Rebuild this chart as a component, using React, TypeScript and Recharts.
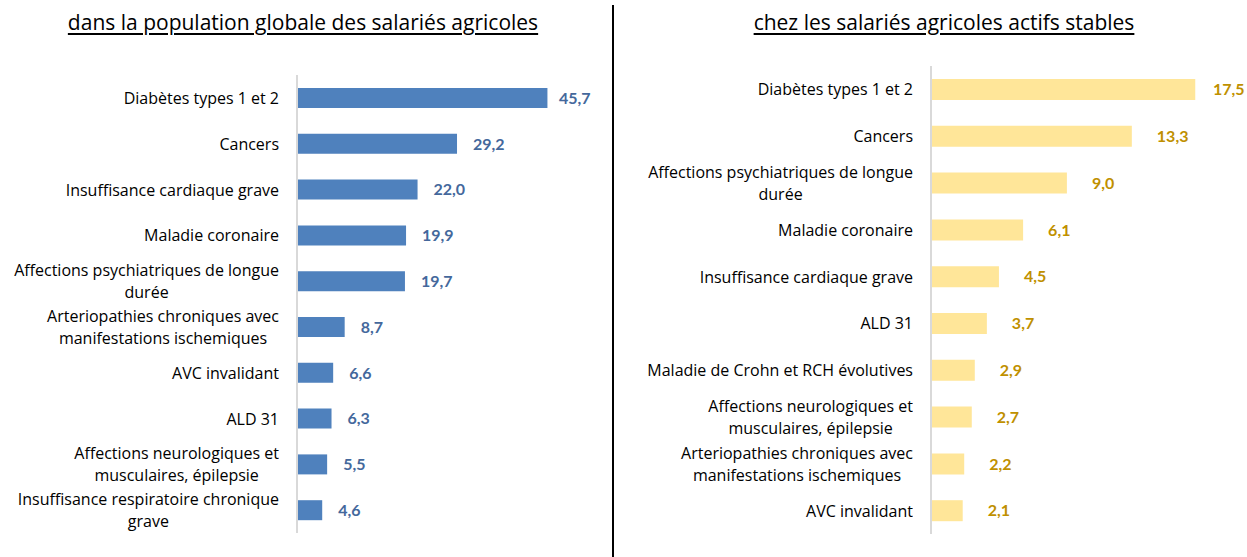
import { BarChart, Bar, XAxis, YAxis, LabelList } from 'recharts';

const globalCategories = [
  'Diabètes types 1 et 2',
  'Cancers',
  'Insuffisance cardiaque grave',
  'Maladie coronaire',
  'Affections psychiatriques de longue\ndurée',
  'Arteriopathies chroniques avec\nmanifestations ischemiques',
  'AVC invalidant',
  'ALD 31',
  'Affections neurologiques et\nmusculaires, épilepsie',
  'Insuffisance respiratoire chronique\ngrave',
];
const globalValues = [45.7, 29.2, 22.0, 19.9, 19.7, 8.7, 6.6, 6.3, 5.5, 4.6];

const stableCategories = [
  'Diabètes types 1 et 2',
  'Cancers',
  'Affections psychiatriques de longue\ndurée',
  'Maladie coronaire',
  'Insuffisance cardiaque grave',
  'ALD 31',
  'Maladie de Crohn et RCH évolutives',
  'Affections neurologiques et\nmusculaires, épilepsie',
  'Arteriopathies chroniques avec\nmanifestations ischemiques',
  'AVC invalidant',
];
const stableValues = [17.5, 13.3, 9.0, 6.1, 4.5, 3.7, 2.9, 2.7, 2.2, 2.1];

const FONT = 'Lato, "Open Sans", sans-serif';
const LABEL_FONT = '"Open Sans", Lato, sans-serif';

const fmt = (v: number) => v.toFixed(1).replace('.', ',');

// multi-line labels: block right-aligned, lines centred inside the block
const WrapTick = (props: any) => {
  const { x, y, payload } = props;
  const lines = String(payload.value).split('\n');
  const w = Math.min(x, 330);
  return (
    <foreignObject x={x - w} y={y - 30} width={w} height={60}>
      <div style={{ height: 60, display: 'flex', alignItems: 'center', justifyContent: 'flex-end' }}>
        <div style={{ textAlign: 'center', fontFamily: LABEL_FONT, fontSize: 16, lineHeight: '22px', color: '#000', whiteSpace: 'nowrap' }}>
          {lines.map((l) => (
            <div key={l}>{l}</div>
          ))}
        </div>
      </div>
    </foreignObject>
  );
};

const valueLabel = (color: string, offset: number, maxX: number) => (props: any) => {
  const { x, y, width, height, value } = props;
  const tx = Math.min(x + width + offset, maxX);
  return (
    <text x={tx} y={y + height / 2} dy="0.36em" fill={color} fontFamily={FONT} fontWeight={700} fontSize={16}>
      {fmt(Number(value))}
    </text>
  );
};

const titleStyle = {
  position: 'absolute' as const,
  top: 8,
  fontFamily: LABEL_FONT,
  fontSize: 21,
  lineHeight: '28px',
  color: '#000',
  textDecoration: 'underline',
  textUnderlineOffset: 3,
  whiteSpace: 'nowrap' as const,
  transform: 'translateX(-50%)',
};

export default function App() {
  const globalData = globalCategories.map((name, i) => ({ name, value: globalValues[i] }));
  const stableData = stableCategories.map((name, i) => ({ name, value: stableValues[i] }));

  return (
    <div style={{ position: 'absolute', left: 0, top: 0, width: 1247, height: 557, background: '#fff', overflow: 'hidden' }}>
      <div style={{ ...titleStyle, left: 303 }}>dans la population globale des salariés agricoles</div>
      <div style={{ ...titleStyle, left: 944 }}>chez les salariés agricoles actifs stables</div>
      <div style={{ position: 'absolute', left: 612, top: 5, width: 2, height: 552, background: '#000' }} />

      <div style={{ position: 'absolute', left: 0, top: 0 }}>
        <BarChart
          width={613}
          height={557}
          data={globalData}
          layout="vertical"
          margin={{ top: 75, right: 42, bottom: 24, left: 0 }}
        >
          <XAxis type="number" domain={[0, 50]} hide />
          <YAxis
            type="category"
            dataKey="name"
            width={297}
            tickSize={0}
            tickMargin={18}
            tickLine={false}
            axisLine={{ stroke: '#D9D9D9', strokeWidth: 2 }}
            tick={<WrapTick />}
            interval={0}
          />
          <Bar dataKey="value" fill="#4F81BD" barSize={20} isAnimationActive={false}>
            <LabelList dataKey="value" content={valueLabel('#44689C', 16, 559)} />
          </Bar>
        </BarChart>
      </div>

      <div style={{ position: 'absolute', left: 613, top: 0 }}>
        <BarChart
          width={634}
          height={557}
          data={stableData}
          layout="vertical"
          margin={{ top: 66, right: 14, bottom: 23, left: 0 }}
        >
          <XAxis type="number" domain={[0, 20]} hide />
          <YAxis
            type="category"
            dataKey="name"
            width={318}
            tickSize={0}
            tickMargin={18}
            tickLine={false}
            axisLine={{ stroke: '#D9D9D9', strokeWidth: 2 }}
            tick={<WrapTick />}
            interval={0}
          />
          <Bar dataKey="value" fill="#FFE699" barSize={21} isAnimationActive={false}>
            <LabelList dataKey="value" content={valueLabel('#BF9000', 25, 600)} />
          </Bar>
        </BarChart>
      </div>
    </div>
  );
}
